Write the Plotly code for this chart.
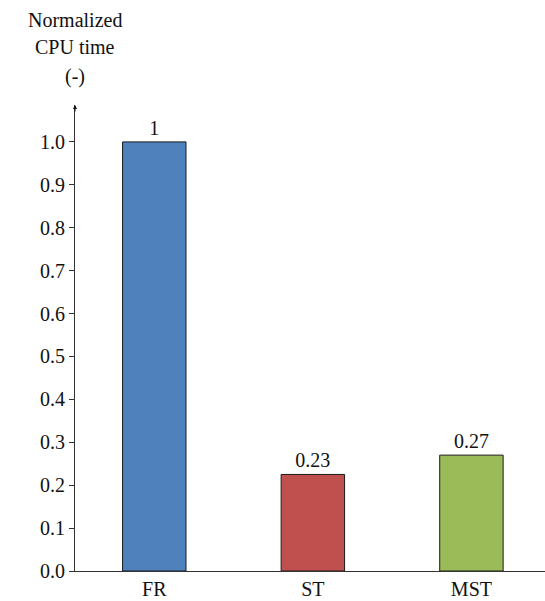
import plotly.graph_objects as go

# Normalized CPU time per method
methods = ["FR", "ST", "MST"]
cpu_time = [1.0, 0.225, 0.27]
value_labels = ["1", "0.23", "0.27"]
bar_colors = ["#4F81BD", "#C0504D", "#9BBB59"]
y_ticks = [0.0, 0.1, 0.2, 0.3, 0.4, 0.5, 0.6, 0.7, 0.8, 0.9, 1.0]

FONT = "Liberation Serif"
SIZE = 20

fig = go.Figure()
fig.add_trace(go.Bar(
    x=methods,
    y=cpu_time,
    width=0.4,
    marker=dict(color=bar_colors, line=dict(color="#1a1a1a", width=1)),
    text=value_labels,
    textposition="outside",
    textfont=dict(family=FONT, size=SIZE, color="#111111"),
    cliponaxis=False,
))

# Axis caption above the y axis, one line per text item
caption_lines = ["Normalized", "CPU time", "(-)"]
caption_y = [20, 47, 76]

annotations = [
    dict(
        text=line,
        xref="paper", yref="paper",
        x=0, y=1, yshift=105 - ypos,
        xanchor="center", yanchor="middle",
        showarrow=False,
        font=dict(family=FONT, size=SIZE, color="#111111"),
    )
    for line, ypos in zip(caption_lines, caption_y)
]
annotations.append(dict(
    x=0, y=1.086, xref="paper", yref="y",
    ax=0, ay=8, axref="pixel", ayref="pixel",
    showarrow=True, arrowhead=2, arrowsize=0.8, arrowwidth=1,
    arrowcolor="#111111", text="",
))

fig.update_layout(
    width=545,
    height=601,
    margin=dict(l=75, r=0, t=105, b=30),
    plot_bgcolor="white",
    paper_bgcolor="white",
    showlegend=False,
    font=dict(family=FONT, size=SIZE, color="#111111"),
    xaxis=dict(
        range=[-0.5, 2.464],
        showline=True,
        linecolor="#333333",
        linewidth=1,
        ticks="",
        showgrid=False,
        tickfont=dict(family=FONT, size=SIZE),
    ),
    yaxis=dict(
        range=[0, 1.086],
        tickvals=y_ticks,
        ticktext=[f"{v:.1f}" for v in y_ticks],
        showline=True,
        linecolor="#333333",
        linewidth=1,
        ticks="outside",
        ticklen=5,
        tickcolor="#333333",
        showgrid=False,
        zeroline=False,
        tickfont=dict(family=FONT, size=SIZE),
    ),
    annotations=annotations,
)

fig.write_html("out.html")
